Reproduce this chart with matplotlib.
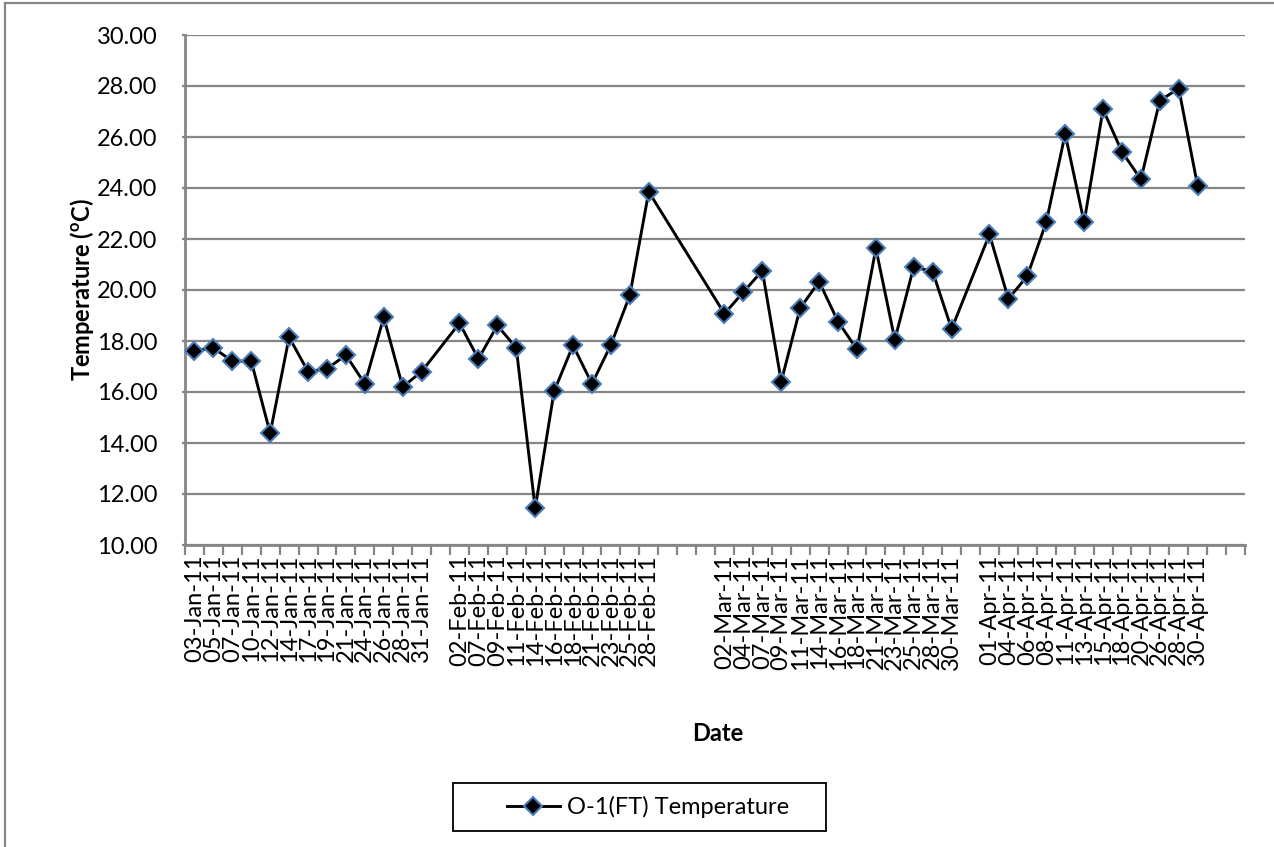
import matplotlib
matplotlib.use('Agg')
import matplotlib.pyplot as plt
from matplotlib.lines import Line2D
from matplotlib.patches import Rectangle
import numpy as np

# O-1(FT) daily temperature readings, Jan-Apr 2011
jan_dates = ['03-Jan-11', '05-Jan-11', '07-Jan-11', '10-Jan-11', '12-Jan-11', '14-Jan-11', '17-Jan-11',
             '19-Jan-11', '21-Jan-11', '24-Jan-11', '26-Jan-11', '28-Jan-11', '31-Jan-11']
jan_temp = [17.62, 17.73, 17.21, 17.21, 14.38, 18.15, 16.80, 16.91, 17.45, 16.32, 18.93, 16.20, 16.80]

feb_dates = ['02-Feb-11', '07-Feb-11', '09-Feb-11', '11-Feb-11', '14-Feb-11', '16-Feb-11', '18-Feb-11',
             '21-Feb-11', '23-Feb-11', '25-Feb-11', '28-Feb-11']
feb_temp = [18.70, 17.30, 18.61, 17.73, 11.44, 16.03, 17.83, 16.32, 17.85, 19.79, 23.85]

mar_dates = ['02-Mar-11', '04-Mar-11', '07-Mar-11', '09-Mar-11', '11-Mar-11', '14-Mar-11', '16-Mar-11',
             '18-Mar-11', '21-Mar-11', '23-Mar-11', '25-Mar-11', '28-Mar-11', '30-Mar-11']
mar_temp = [19.07, 19.92, 20.76, 16.41, 19.29, 20.33, 18.76, 17.67, 21.63, 18.05, 20.91, 20.72, 18.47]

apr_dates = ['01-Apr-11', '04-Apr-11', '06-Apr-11', '08-Apr-11', '11-Apr-11', '13-Apr-11', '15-Apr-11',
             '18-Apr-11', '20-Apr-11', '26-Apr-11', '28-Apr-11', '30-Apr-11']
apr_temp = [22.18, 19.65, 20.55, 22.66, 26.12, 22.66, 27.08, 25.42, 24.34, 27.43, 27.90, 24.07]

# blank rows in the sheet between the months
categories = jan_dates + [''] + feb_dates + [''] * 3 + mar_dates + [''] + apr_dates + [''] * 2
temps = jan_temp + [None] + feb_temp + [None] * 3 + mar_temp + [None] + apr_temp + [None] * 2

xs = [i for i, t in enumerate(temps) if t is not None]
ys = [t for t in temps if t is not None]
n = len(categories)

plt.rcParams['font.family'] = ['Lato', 'DejaVu Sans']
plt.rcParams['mathtext.fontset'] = 'custom'
plt.rcParams['mathtext.rm'] = 'Lato'
plt.rcParams['mathtext.bf'] = 'Lato:bold'

grey = '#868686'
W, H = 1274, 847
fig = plt.figure(figsize=(W / 100, H / 100), dpi=100, facecolor='w')
ax = fig.add_axes([185 / W, 1 - 545 / H, 1060 / W, 510 / H])

ax.plot(xs, ys, '-', color='black', linewidth=2.1, marker='D', markersize=9.5,
        markerfacecolor='black', markeredgecolor='#4a7ebb', markeredgewidth=1.5,
        label='O-1(FT) Temperature', zorder=3)

ax.set_xlim(-0.5, n - 0.5)
ax.set_ylim(10, 30)
ax.set_yticks(np.arange(10, 31, 2))
ax.set_yticklabels(['%.2f' % v for v in np.arange(10, 31, 2)], fontsize=17)
ax.grid(axis='y', color=grey, linewidth=1.6)
ax.set_axisbelow(True)

# tick marks between categories, labels under each category
ax.set_xticks(np.arange(-0.5, n, 1))
ax.set_xticklabels([])
ax.set_xticks(np.arange(n), minor=True)
ax.set_xticklabels(categories, minor=True, rotation=90, fontsize=17)
ax.tick_params(axis='x', which='major', length=7, width=1.6, color=grey)
ax.tick_params(axis='x', which='minor', length=0, pad=7)
ax.tick_params(axis='y', length=2, width=1.6, color=grey, pad=18)

for side in ['top', 'right']:
    ax.spines[side].set_visible(False)
for side in ['left', 'bottom']:
    ax.spines[side].set_color(grey)
    ax.spines[side].set_linewidth(2)

fig.text(82 / W, 1 - 290 / H, r'Temperature ($^{\mathbf{o}}$C)', rotation=90,
         ha='center', va='center', fontsize=17, fontweight='bold')
fig.text(718 / W, 1 - 733 / H, 'Date', ha='center', va='center', fontsize=17, fontweight='bold')

# legend entry with its own box around it
leg = fig.legend(loc='center left', bbox_to_anchor=(495 / W, 1 - 807 / H), fontsize=17,
                 frameon=False, handlelength=2.25, handletextpad=0.3, borderpad=0)
fig.add_artist(Rectangle((453 / W, 1 - 831 / H), 373 / W, 48 / H, transform=fig.transFigure,
                         fill=False, edgecolor='black', linewidth=1.3))

# chart area border
fig.add_artist(Line2D([5 / W, 1], [1 - 3 / H, 1 - 3 / H], color=grey, linewidth=1.6))
fig.add_artist(Line2D([5 / W, 5 / W], [0, 1 - 3 / H], color=grey, linewidth=1.6))

plt.savefig('out.png', dpi=100, facecolor='w')
